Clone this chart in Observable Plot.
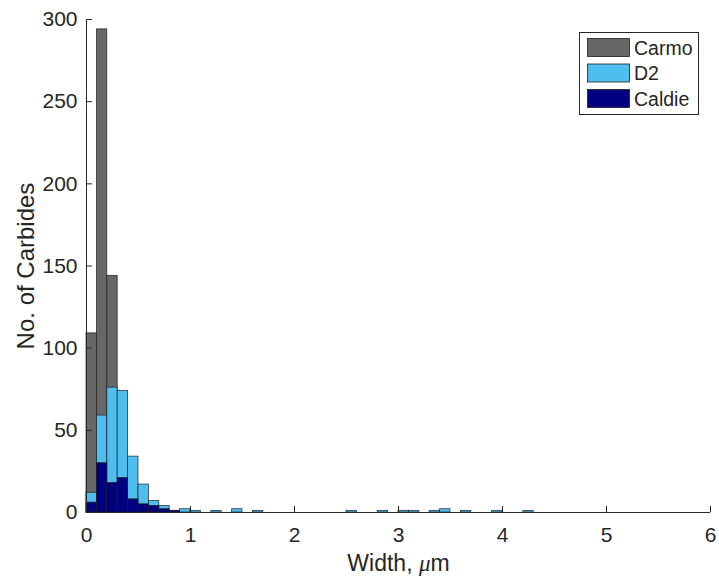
<!DOCTYPE html>
<html><head><meta charset="utf-8">
<script src="https://cdn.jsdelivr.net/npm/d3@7"></script>
<script src="https://cdn.jsdelivr.net/npm/@observablehq/plot@0.6"></script>
<style>html,body{margin:0;padding:0;background:#fff;} svg{display:block}</style>
</head><body><div id="chart"></div>
<script>
const binWidth = 0.1;
const carmo = [109, 294, 144];
const d2 = [12, 59, 76, 74, 34, 17, 7, 4, 1, 2,
            1, 0, 1, 0, 2, 0, 1, 0, 0, 0,
            0, 0, 0, 0, 0, 1, 0, 0, 1, 0,
            1, 1, 0, 1, 2, 0, 1, 0, 0, 1,
            0, 0, 1];
const caldie = [6, 30, 18, 21, 8, 5, 4, 2, 1];
const seriesNames = ["Carmo", "D2", "Caldie"];
const seriesColors = ["#676767", "#4dbeee", "#000080"];
const xTicks = [0, 1, 2, 3, 4, 5, 6];
const yTicks = [0, 50, 100, 150, 200, 250, 300];
const xLabel = "Width, μm";
const yLabel = "No. of Carbides";

const seriesValues = [carmo, d2, caldie];
const rows = seriesNames.flatMap((name, s) =>
  seriesValues[s].map((count, i) => ({series: name, x1: +(i * binWidth).toFixed(2), x2: +((i + 1) * binWidth).toFixed(2), count}))
    .filter(d => d.count > 0));

const ink = "#262626";
const fmt = d3.format("d");
const plot = Plot.plot({
  width: 719, height: 578,
  marginLeft: 86, marginRight: 9, marginTop: 19, marginBottom: 66,
  style: {fontFamily: "'Liberation Sans', Arial, sans-serif", fontSize: "21px", color: ink, background: "#fff", overflow: "visible"},
  x: {domain: [0, 6]},
  y: {domain: [0, 300]},
  color: {domain: seriesNames, range: seriesColors},
  marks: [
    Plot.rectY(rows, {x1: "x1", x2: "x2", y1: 0, y2: "count", fill: "series", stroke: "#1e1e1e", strokeWidth: 0.8, strokeOpacity: 0.85}),
    Plot.ruleX([0], {stroke: ink, strokeWidth: 1}),
    Plot.ruleY([0], {stroke: ink, strokeWidth: 1}),
    Plot.axisX({ticks: xTicks, tickFormat: fmt, tickSize: 0, tickPadding: 15, label: null, fontSize: 21}),
    Plot.axisX({ticks: xTicks, tickSize: 6, text: null, dy: -6, label: null, stroke: ink}),
    Plot.axisY({ticks: yTicks, tickFormat: fmt, tickSize: 0, tickPadding: 9, label: null, fontSize: 21}),
    Plot.axisY({ticks: yTicks, tickSize: 6, text: null, dx: 6, label: null, stroke: ink}),
    Plot.text([yLabel], {frameAnchor: "left", rotate: -90, dx: -53, textAnchor: "middle", lineAnchor: "bottom", fontSize: 24, fill: ink}),
    Plot.text([xLabel], {frameAnchor: "bottom", dy: 58, textAnchor: "middle", lineAnchor: "bottom", fontSize: 23, fill: ink})
  ]
});
document.getElementById("chart").appendChild(plot);

// italic mu as in the TeX-rendered label
d3.select(plot).selectAll("text").filter(function() { return this.textContent === xLabel; }).each(function() {
  const t = d3.select(this);
  t.text(null);
  const parts = xLabel.split("μ");
  t.append("tspan").text(parts[0]);
  t.append("tspan").attr("font-style", "italic").attr("font-family", "'Liberation Serif', serif").text("μ");
  t.append("tspan").text(parts[1]);
});

// legend (drawn inside the SVG)
const svg = d3.select(plot);
const lg = svg.append("g").attr("font-family", "'Liberation Sans', Arial, sans-serif").attr("font-size", 19.5).attr("fill", ink).attr("text-anchor", "start");
lg.append("rect").attr("x", 579.5).attr("y", 32.5).attr("width", 119).attr("height", 82).attr("fill", "#fff").attr("stroke", ink).attr("stroke-width", 1);
seriesNames.forEach((name, i) => {
  const y = 38 + i * 25.5;
  lg.append("rect").attr("x", 587.5).attr("y", y + 0.5).attr("width", 42).attr("height", 18).attr("fill", seriesColors[i]).attr("stroke", "#1e1e1e").attr("stroke-width", 0.8);
  lg.append("text").attr("x", 634).attr("y", y + 9.5).attr("dy", "0.36em").attr("text-anchor", "start").text(name);
});
</script>
</body></html>
